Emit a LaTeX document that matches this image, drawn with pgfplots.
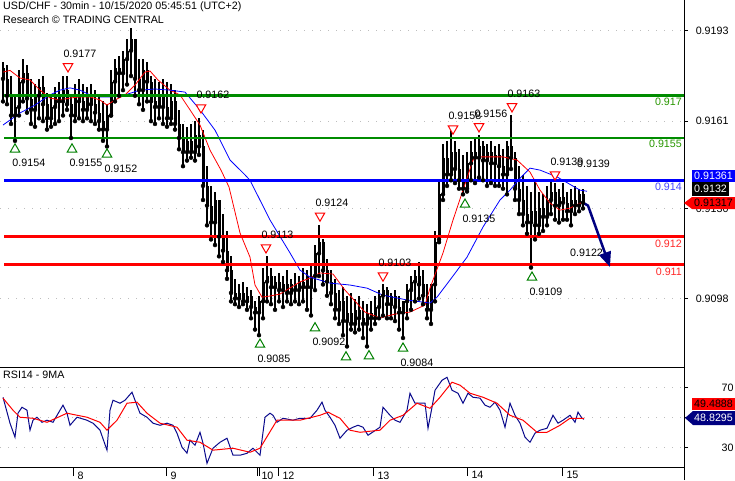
\documentclass[border=0pt]{standalone}
\usepackage{pgfplots}
\pgfplotsset{compat=1.18}
\usepackage{pgfplotstable}
\usepackage{fontspec}
\setmainfont{Liberation Sans}
\usetikzlibrary{arrows.meta}

\definecolor{lvgreen}{RGB}{0,140,0}
\definecolor{lvblue}{RGB}{0,0,255}
\definecolor{lvred}{RGB}{255,0,0}
\definecolor{navy}{RGB}{0,0,128}
\definecolor{rsiblue}{RGB}{10,10,140}
\definecolor{dotgray}{RGB}{190,190,190}
\definecolor{trigreen}{RGB}{0,128,0}
\definecolor{txgreen}{RGB}{40,150,0}
\definecolor{txblue}{RGB}{70,70,255}
\definecolor{txred}{RGB}{255,40,40}
\newcommand{\fs}{\fontsize{10.7}{12}\selectfont}

% 30 min candles, x in chart pixels, prices in pips (0.9xxx)
\pgfplotstableread{
x h l o c
3 9182 9168 9180 9176
7 9181 9167 9176 9170
11 9177 9160 9170 9163
15 9170 9154 9163 9166
19 9179 9163 9166 9175
23 9183 9168 9175 9178
27 9181 9164 9178 9169
31 9176 9160 9169 9165
35 9174 9159 9165 9170
39 9176 9162 9170 9173
43 9177 9161 9173 9167
47 9171 9158 9167 9162
51 9170 9159 9162 9166
55 9173 9160 9166 9170
59 9175 9161 9170 9168
63 9177 9163 9168 9172
67 9177 9165 9172 9167
71 9170 9155 9167 9163
75 9174 9161 9163 9170
79 9176 9162 9170 9168
83 9174 9161 9168 9165
87 9173 9162 9165 9170
91 9174 9161 9170 9167
95 9172 9160 9167 9164
99 9170 9158 9164 9161
103 9168 9154 9161 9158
107 9167 9152 9158 9163
111 9179 9163 9163 9175
115 9183 9168 9175 9180
119 9184 9170 9180 9178
123 9186 9172 9178 9183
127 9190 9174 9183 9186
131 9194 9177 9186 9190
135 9190 9170 9190 9176
139 9183 9167 9176 9172
143 9183 9165 9172 9179
147 9182 9168 9179 9175
151 9177 9161 9175 9168
155 9176 9160 9168 9166
159 9175 9162 9166 9170
163 9176 9160 9170 9166
167 9175 9159 9166 9162
171 9174 9160 9162 9168
175 9172 9158 9168 9160
179 9165 9151 9160 9155
183 9160 9145 9155 9150
187 9159 9147 9150 9154
191 9160 9148 9154 9150
195 9161 9147 9150 9156
199 9162 9149 9156 9152
203 9158 9133 9152 9138
207 9145 9124 9138 9131
211 9138 9119 9131 9125
215 9136 9117 9125 9133
219 9133 9113 9133 9120
223 9128 9111 9120 9115
227 9122 9105 9115 9108
231 9113 9097 9108 9100
235 9105 9096 9100 9098
239 9103 9095 9098 9100
243 9104 9096 9100 9097
247 9102 9094 9097 9099
251 9101 9091 9099 9095
255 9097 9087 9095 9093
259 9099 9085 9093 9097
263 9109 9091 9097 9104
267 9113 9097 9104 9106
271 9109 9096 9106 9102
275 9106 9094 9102 9104
279 9107 9097 9104 9101
283 9106 9095 9101 9103
287 9108 9097 9103 9100
291 9105 9096 9100 9103
295 9107 9097 9103 9101
299 9106 9096 9101 9104
303 9109 9097 9104 9102
307 9108 9094 9102 9106
311 9110 9092 9102 9106
315 9117 9101 9106 9114
319 9124 9106 9114 9118
323 9119 9103 9118 9108
327 9112 9099 9108 9104
331 9108 9096 9104 9100
335 9105 9091 9100 9094
339 9101 9089 9094 9097
343 9102 9085 9097 9090
347 9099 9081 9090 9093
351 9100 9087 9093 9089
355 9098 9086 9089 9094
359 9099 9087 9094 9091
363 9097 9084 9091 9089
367 9096 9081 9089 9093
371 9097 9087 9093 9091
375 9099 9089 9091 9095
379 9101 9091 9095 9099
383 9103 9092 9099 9101
387 9102 9091 9101 9096
391 9100 9091 9096 9099
395 9101 9090 9099 9095
399 9099 9087 9095 9093
403 9097 9084 9093 9097
407 9103 9091 9097 9101
411 9106 9094 9101 9104
415 9108 9097 9104 9106
419 9111 9098 9106 9103
423 9108 9096 9103 9099
427 9103 9091 9099 9094
431 9101 9089 9094 9103
435 9122 9097 9103 9118
439 9140 9119 9118 9135
443 9153 9133 9135 9148
447 9154 9138 9148 9142
451 9158 9140 9142 9150
455 9154 9139 9150 9144
459 9151 9137 9144 9140
463 9149 9135 9140 9137
467 9150 9136 9137 9146
471 9154 9140 9146 9150
475 9155 9139 9150 9148
479 9156 9141 9148 9152
483 9154 9140 9152 9147
487 9153 9138 9147 9150
491 9154 9139 9150 9146
495 9152 9138 9146 9149
499 9153 9138 9149 9145
503 9151 9137 9145 9142
507 9154 9135 9142 9152
511 9163 9144 9152 9148
515 9150 9133 9148 9137
519 9145 9128 9137 9133
523 9142 9124 9133 9128
527 9138 9121 9128 9125
531 9136 9109 9125 9129
535 9140 9119 9129 9124
539 9136 9121 9124 9130
543 9135 9122 9130 9127
547 9138 9124 9127 9133
551 9140 9128 9133 9136
555 9139 9126 9136 9131
559 9137 9125 9131 9134
563 9139 9126 9134 9132
567 9136 9126 9132 9129
571 9137 9124 9129 9133
575 9138 9128 9133 9131
579 9137 9129 9131 9135
583 9137 9130 9135 9132
}\candles

\begin{document}
\begin{tikzpicture}
\path[use as bounding box] (0pt,0pt) rectangle (735pt,480pt);

\begin{axis}[
  at={(0pt,113pt)}, anchor=south west, scale only axis,
  width=684pt, height=367pt,
  xmin=0, xmax=684, ymin=9073.7, ymax=9204,
  axis x line*=bottom, axis y line*=right,
  axis line style={line width=1pt},
  xtick=\empty,
  ytick={9098,9130,9161,9193},
  yticklabels={0.9098,0.9130,0.9161,0.9193},
  tick align=outside, major tick length=4pt,
  tick style={black, line width=1pt},
  ymajorgrids,
  grid style={dotgray, line width=1pt, dash pattern=on 1pt off 7pt},
  yticklabel style={anchor=east, xshift=44pt},
  every tick label/.append style={font=\fs},
  /pgf/number format/assume math mode=true,
]
% wicks and bodies
\addplot[only marks, mark options={draw=none, fill=none},
  error bars/.cd, y dir=plus, y explicit, error mark=none,
  error bar style={black, line width=1.1pt}]
  table[x=x, y=l, y error plus expr=\thisrow{h}-\thisrow{l}] {\candles};
\addplot[only marks, mark options={draw=none, fill=none},
  error bars/.cd, y dir=plus, y explicit, error mark=none,
  error bar style={black, line width=3pt}]
  table[x=x, y expr={min(\thisrow{o},\thisrow{c})},
        y error plus expr={abs(\thisrow{c}-\thisrow{o})}] {\candles};

% moving averages
\addplot[lvred, line width=0.8pt] coordinates {
(3,9178.4) (10,9179) (20,9176.3) (30,9175.6) (40,9172) (50,9169.2) (60,9168.5)
(70,9169.2) (80,9169.6) (90,9169.6) (100,9168.5) (107,9166.7) (115,9168.5)
(125,9170.3) (135,9173.8) (145,9178.4) (150,9178.8) (158,9175.6) (170,9172)
(180,9170.3) (190,9165) (200,9159.6) (210,9150.7) (221,9143.6) (229,9137.6)
(240,9121.3) (250,9112.7) (255,9102.8) (262,9098.5) (270,9098.9) (280,9099.6)
(300,9103.9) (310,9105.3) (320,9107.1) (333,9106.7) (345,9101) (365,9093.2)
(380,9091.1) (395,9092.5) (410,9093.2) (425,9095.7) (430,9101.7) (443,9114.2)
(453,9125.9) (463,9136.5) (473,9147.2) (480,9148.3) (503,9148.3) (517,9147.2)
(530,9142.9) (540,9136.5) (550,9131.9) (560,9129.4) (570,9130.1) (580,9131.9)
(585,9131.7)};
\addplot[lvblue, line width=0.8pt] coordinates {
(3,9159.6) (20,9163.9) (35,9166.7) (50,9170.3) (60,9172) (70,9172.8) (80,9172)
(90,9170.3) (100,9169.6) (110,9169.6) (125,9170.3) (140,9172) (155,9172.4)
(170,9172) (185,9171.3) (200,9165) (215,9157.8) (230,9147.2) (245,9141.9)
(250,9140) (270,9125.9) (290,9114.2) (300,9108.1) (310,9105.6) (330,9103.5)
(350,9102.8) (367,9101.7) (383,9099.2) (407,9097.5) (430,9096.4) (437,9098.5)
(450,9104.6) (467,9112.7) (483,9123.4) (500,9133) (510,9136.5) (520,9140.7)
(530,9144.3) (540,9143.6) (557,9141.2) (580,9136.5) (587,9136.1)};

% levels
\addplot[lvgreen, line width=2.6pt] coordinates {(4,9170) (684,9170)};
\addplot[lvgreen, line width=2.6pt] coordinates {(4,9155) (684,9155)};
\addplot[lvblue, line width=2.6pt] coordinates {(4,9140) (684,9140)};
\addplot[lvred, line width=2.6pt] coordinates {(4,9120) (684,9120)};
\addplot[lvred, line width=2.6pt] coordinates {(4,9110) (684,9110)};

\node[anchor=east, inner sep=0pt, text=txgreen, font=\fs] at (axis cs:682,9167.8) {0.917};
\node[anchor=east, inner sep=0pt, text=txgreen, font=\fs] at (axis cs:682,9152.9) {0.9155};
\node[anchor=east, inner sep=0pt, text=txblue, font=\fs] at (axis cs:682,9137.6) {0.914};
\node[anchor=east, inner sep=0pt, text=txred, font=\fs] at (axis cs:682,9117.4) {0.912};
\node[anchor=east, inner sep=0pt, text=txred, font=\fs] at (axis cs:682,9107.4) {0.911};

% swing lows / highs
\addplot[only marks, mark=triangle*, mark size=5.5pt,
  mark options={draw=trigreen, fill=white, line width=1pt},
  nodes near coords, point meta=explicit symbolic,
  nodes near coords style={anchor=west, inner sep=0pt, xshift=-3pt, yshift=-14pt, font=\fs, text=black}]
  table[meta=lab, row sep=\\] {
x y lab\\
15 9151 0.9154\\
72 9151 0.9155\\
107 9149.2 0.9152\\
260 9081.7 0.9085\\
315 9087.5 0.9092\\
403 9080.3 0.9084\\
465 9131.4 0.9135\\
532 9105.5 0.9109\\
};
\addplot[only marks, mark=triangle*, mark size=5.5pt,
  mark options={draw=trigreen, fill=white, line width=1pt}]
  coordinates {(346,9077.2) (369,9077.6)};
\addplot[only marks, mark=triangle*, mark size=5.5pt,
  mark options={draw=lvred, fill=white, line width=1pt, rotate=180},
  nodes near coords, point meta=explicit symbolic,
  nodes near coords style={anchor=west, inner sep=0pt, xshift=-5pt, yshift=13pt, font=\fs, text=black}]
  table[meta=lab, row sep=\\] {
x y lab\\
68 9180.4 0.9177\\
201 9165.8 0.9162\\
266 9116.1 0.9113\\
320 9127.4 0.9124\\
383 9106.1 0.9103\\
453 9158.3 0.9158\\
479 9159.1 0.9156\\
512 9166.2 0.9163\\
555 9142 0.9139\\
};
\node[anchor=west, inner sep=0pt, font=\fs] at (axis cs:577,9145.8) {0.9139};
\node[anchor=west, inner sep=0pt, font=\fs] at (axis cs:570,9114.2) {0.9122};

% projection
\addplot[navy, line width=2.5pt, -{Triangle[length=15pt, width=12pt]}]
  coordinates {(584,9131.8) (588,9131) (610,9109.2)};
\end{axis}

\begin{axis}[
  at={(0pt,13pt)}, anchor=south west, scale only axis,
  width=684pt, height=100pt,
  xmin=0, xmax=684, ymin=16.8, ymax=83.9,
  axis x line*=bottom, axis y line*=right,
  axis line style={line width=1pt},
  xtick={73,166,257,259,278,373,467,562},
  xticklabels={8,9,10,,12,13,14,15},
  ytick={30,50,70}, yticklabels={30,,70},
  minor ytick={30,50,70},
  tick align=outside, major tick length=9pt, minor tick length=4pt,
  tick style={black, line width=1pt},
  major y tick style={draw=none},
  ymajorgrids,
  grid style={dotgray, line width=1pt, dash pattern=on 1pt off 7pt},
  yticklabel style={anchor=east, xshift=44pt},
  xticklabel style={anchor=north west, xshift=1pt, yshift=8pt},
  every tick label/.append style={font=\fs},
  /pgf/number format/assume math mode=true,
]
\addplot[rsiblue, line width=1pt] coordinates {
(3,63.6) (10,46.2) (15,36.8) (18,52.9) (22,56.9) (27,54.9) (30,41.5) (33,48.2)
(37,50.2) (42,46.8) (47,48.2) (53,46.8) (60,54.9) (63,58.3) (67,52.9) (70,44.8)
(77,50.2) (87,48.2) (93,46.2) (100,41.5) (107,28.1) (110,54.9) (113,61.6)
(120,59.6) (125,61.6) (132,67.0) (135,61.6) (140,52.9) (147,50.2) (153,46.2)
(160,44.8) (167,46.2) (173,44.8) (177,39.5) (182,30.1) (187,26.1) (190,34.8)
(195,31.4) (200,40.1) (203,32.8) (207,19.3) (213,29.4) (220,33.4) (227,36.1)
(233,24.7) (240,24.7) (247,26.0) (253,29.4) (260,24.7) (265,50.2) (270,52.9)
(273,51.5) (277,46.8) (283,49.5) (293,48.2) (300,49.5) (310,49.5) (317,54.9)
(322,60.3) (325,54.9) (330,50.2) (335,44.8) (340,36.1) (347,41.5) (353,43.5)
(358,44.8) (363,43.5) (368,38.1) (380,43.5) (383,56.9) (390,51.5) (395,48.2)
(400,46.8) (407,54.9) (410,66.3) (415,59.6) (420,59.6) (425,59.6) (428,42.8)
(432,56.9) (435,68.3) (442,75.0) (447,77.0) (452,68.3) (458,66.3) (463,59.6)
(468,66.3) (473,63.6) (480,63.0) (485,58.3) (490,56.9) (495,60.3) (500,54.9)
(505,43.5) (510,59.6) (515,51.5) (520,46.2) (525,36.8) (530,33.4) (535,39.5)
(540,41.5) (547,42.8) (553,51.5) (558,46.2) (563,48.2) (570,51.5) (575,46.8)
(578,53.6) (582,49.5) (584,48.8)};
\addplot[lvred, line width=1pt] coordinates {
(3,63.0) (13,54.9) (20,50.2) (33,49.5) (47,46.8) (67,52.9) (87,50.2) (100,46.8)
(107,41.5) (117,48.2) (127,59.6) (137,60.3) (147,52.9) (160,46.2) (177,43.5)
(187,34.8) (200,33.4) (213,28.1) (233,29.4) (250,26.7) (260,29.4) (277,48.2)
(300,48.2) (320,51.5) (328,53.6) (340,49.5) (350,41.5) (360,40.1) (380,41.5)
(390,48.2) (403,51.5) (417,59.6) (430,56.2) (440,63.6) (452,73.7) (460,71.7)
(470,66.3) (483,63.6) (497,59.6) (510,51.5) (523,48.2) (537,40.1) (547,40.1)
(560,44.8) (570,49.5) (584,49.5)};
\end{axis}

\draw[line width=1pt] (684pt,0pt) -- (684pt,13pt);

% headers
\node[anchor=west, inner sep=0pt, font=\fs] at (3pt,473pt) {USD/CHF - 30min - 10/15/2020 05:45:51 (UTC+2)};
\node[anchor=west, inner sep=0pt, font=\fs] at (3pt,460pt) {Research © TRADING CENTRAL};
\node[anchor=west, inner sep=0pt, font=\fs] at (3pt,105pt) {RSI14 - 9MA};

% last value flags
\fill[lvblue] (692pt,310pt) rectangle (735pt,298pt);
\node[anchor=west, inner sep=0pt, text=white, font=\fs] at (694pt,304pt) {0.91361};
\fill[black] (692pt,298pt) rectangle (729pt,284pt);
\node[anchor=west, inner sep=0pt, text=white, font=\fs] at (694pt,291pt) {0.9132};
\fill[lvred] (684pt,277pt) -- (692pt,283pt) -- (735pt,283pt) -- (735pt,271pt) -- (692pt,271pt) -- cycle;
\node[anchor=west, inner sep=0pt, text=black, font=\fs] at (694pt,277pt) {0.91317};
\fill[lvred] (692pt,82pt) rectangle (735pt,70pt);
\node[anchor=west, inner sep=0pt, text=black, font=\fs] at (694pt,76pt) {49.4888};
\fill[navy] (685pt,62pt) -- (693pt,69pt) -- (735pt,69pt) -- (735pt,55pt) -- (693pt,55pt) -- cycle;
\node[anchor=west, inner sep=0pt, text=white, font=\fs] at (694pt,62pt) {48.8295};
\end{tikzpicture}
\end{document}
